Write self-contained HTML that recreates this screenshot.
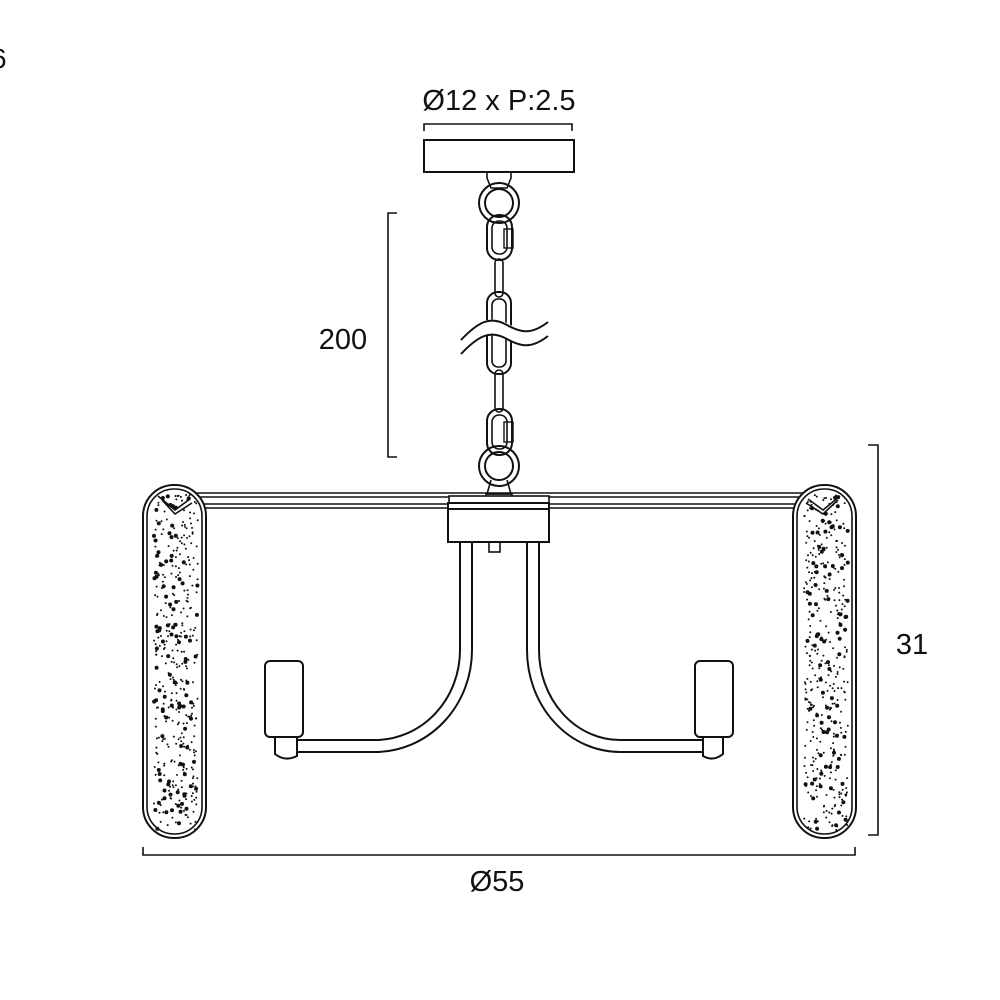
<!DOCTYPE html>
<html><head><style>
html,body{margin:0;padding:0;background:#fff;width:1000px;height:1000px;overflow:hidden}
svg{display:block}
text{font-family:"Liberation Sans",sans-serif;fill:#111}
</style></head><body>
<svg id="s" width="1000" height="1000" viewBox="0 0 1000 1000" xmlns="http://www.w3.org/2000/svg">
<g fill="none" stroke="#111" stroke-width="1.6">
<!-- dimensions -->
<path d="M424 131V124H572V131"/>
<path d="M397 213H388V457H397"/>
<path d="M868 445H878V835H868"/>
<path d="M143 847V855H855V847"/>
<!-- ceiling plate -->
<path d="M487 172V178L491 188H507L511 178V172"/>
<rect x="424" y="140" width="150" height="32" stroke-width="2" fill="#fff"/>
<circle cx="499" cy="203" r="20" stroke-width="2"/>
<circle cx="499" cy="203" r="14" stroke-width="2"/>
<!-- upper carabiner -->
<rect x="487" y="215" width="25" height="45" rx="12" stroke-width="2"/>
<rect x="492" y="221" width="15" height="33" rx="7"/>
<rect x="504" y="229" width="9" height="19" stroke-width="1.4"/>
<rect x="495" y="259" width="8" height="38" rx="4"/>
<!-- long link -->
<rect x="487" y="292" width="24" height="82" rx="11" stroke-width="2"/>
<rect x="492" y="299" width="14" height="68" rx="6"/>
<rect x="495" y="370" width="8" height="42" rx="4"/>
<!-- wave -->
<path d="M461 346C478 328 490 322 505 330S530 342 548 328" stroke="#fff" stroke-width="14"/>
<path d="M461 346C478 328 490 322 505 330S530 342 548 328" stroke-width="2" transform="translate(0,-6)"/>
<path d="M461 346C478 328 490 322 505 330S530 342 548 328" stroke-width="2" transform="translate(0,8)"/>
<!-- lower carabiner -->
<rect x="487" y="409" width="25" height="46" rx="12" stroke-width="2"/>
<rect x="492" y="415" width="15" height="34" rx="7"/>
<rect x="504" y="422" width="9" height="20" stroke-width="1.4"/>
<circle cx="499" cy="466" r="20" stroke-width="2"/>
<circle cx="499" cy="466" r="14" stroke-width="2"/>
<path d="M491 480L487 494H511L507 480"/>
<rect x="486" y="494" width="26" height="6"/>
<!-- bar -->
<path d="M190 493H810M190 497H810M190 504H810M190 508H810" stroke-width="1.6"/>
<rect x="449" y="496" width="100" height="7" fill="#fff"/>
<rect x="448" y="503" width="101" height="39" fill="#fff" stroke-width="2"/>
<line x1="448" y1="509" x2="549" y2="509" stroke-width="2"/>
<rect x="489" y="542" width="11" height="10"/>
<!-- arms -->
<path d="M460 542V650A85 90 0 0 1 375 740H298M472 542V650A97 102 0 0 1 375 752H298" stroke-width="2"/>
<path d="M539 542V650A81 90 0 0 0 620 740H703M527 542V650A93 102 0 0 0 620 752H703" stroke-width="2"/>
<!-- sockets -->
<rect x="265" y="661" width="38" height="76" rx="5" stroke-width="2"/>
<path d="M275 737V754Q285 762 297 756V737" stroke-width="2"/>
<rect x="695" y="661" width="38" height="76" rx="5" stroke-width="2"/>
<path d="M703 737V756Q713 762 723 754V737" stroke-width="2"/>
<!-- pills -->
<rect x="143" y="485" width="63" height="353" rx="31" stroke-width="2" fill="#fff"/>
<rect x="147" y="489" width="55" height="345" rx="27"/>
<rect x="793" y="485" width="63" height="353" rx="31" stroke-width="2" fill="#fff"/>
<rect x="797" y="489" width="55" height="345" rx="27"/>
<path d="M158 496L175 510L190 499M162 500L175 514L192 503"/>
<path d="M808 499L823 510L840 496M806 503L823 514L838 500"/>
<g id="dots" stroke="none" fill="#111"></g>
</g>
<text x="499" y="110" font-size="29" text-anchor="middle">Ø12 x P:2.5</text>
<text x="343" y="349" font-size="29" text-anchor="middle">200</text>
<text x="912" y="654" font-size="29" text-anchor="middle">31</text>
<text x="497" y="891" font-size="29" text-anchor="middle">Ø55</text>
<text x="-9" y="68" font-size="28">6</text>
</svg>
<script>
var g=document.getElementById('dots'),seed=7;function r(){seed=(seed*16807)%2147483647;return seed/2147483647;}
var h='';[150,800].forEach(function(x0){for(var i=0;i<420;i++){var x=x0+4+r()*44,y=495+r()*335;var dy=Math.min(y-512,820-y);if(dy<0){var c=Math.sqrt(Math.max(0,22*22-dy*dy));if(Math.abs(x-(x0+26))>c)continue;}
var s=r()<0.25?2:1;h+='<circle cx="'+x.toFixed(1)+'" cy="'+y.toFixed(1)+'" r="'+s+'"/>';}});g.innerHTML=h;
</script>
</body></html>
